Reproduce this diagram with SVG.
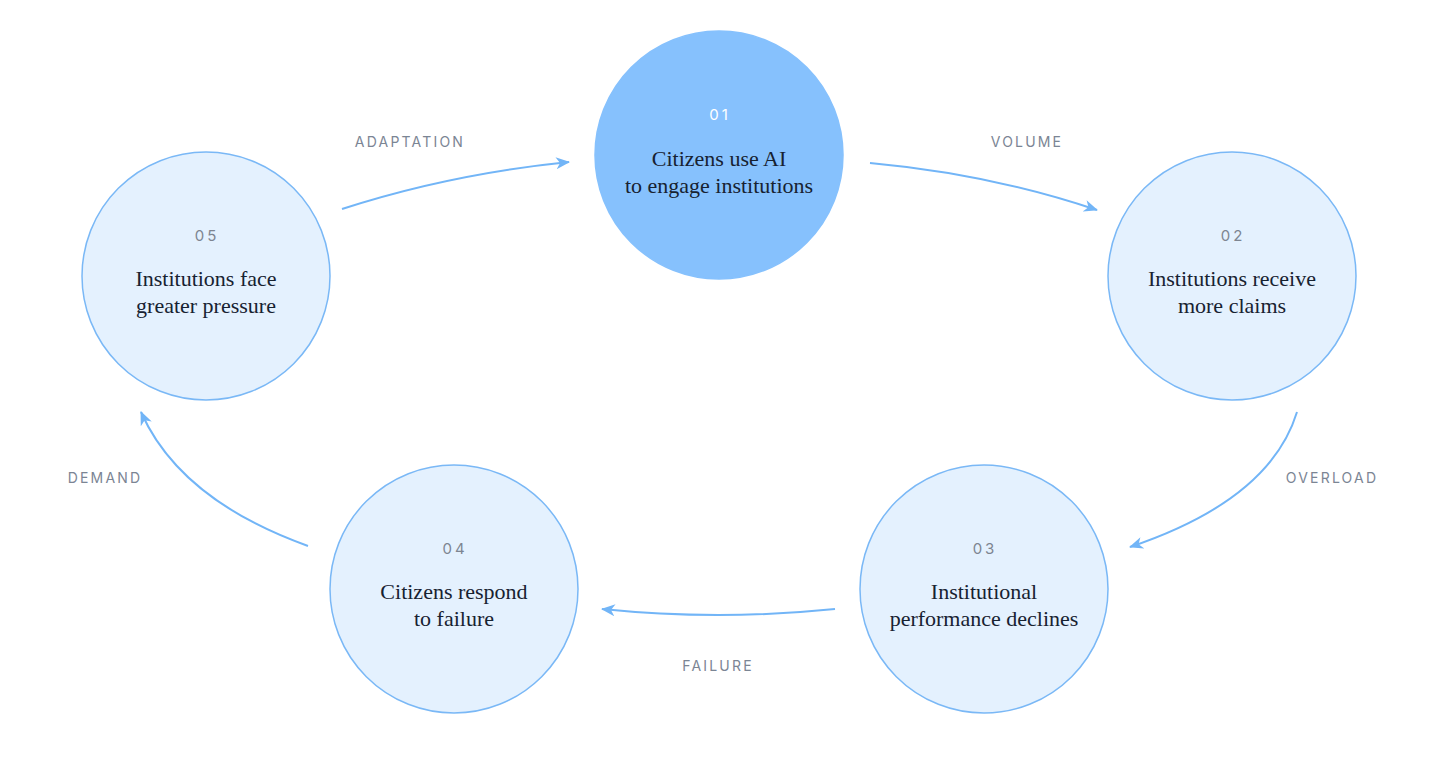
<svg xmlns="http://www.w3.org/2000/svg" width="1456" height="763" viewBox="0 0 1456 763">
<defs>
<marker id="ah" viewBox="0 0 14 12" refX="13" refY="6" markerWidth="14" markerHeight="12" markerUnits="userSpaceOnUse" orient="auto">
<path d="M0,0 L14,6 L0,12 L4,6 Z" fill="#72b5f7"/>
</marker>
<style>
.node{fill:#e4f1fe;stroke:#7ab8f6;stroke-width:1.5}
.node.hi{fill:#86c1fd;stroke:#86c1fd}
.num{font-family:Inter,"Liberation Sans",sans-serif;font-size:15px;letter-spacing:3px;fill:#7d8591;text-anchor:middle}
.num.w{fill:#ffffff}
.title{font-family:"Liberation Serif","DejaVu Serif",serif;font-size:22px;fill:#172231;text-anchor:middle}
.lbl{font-family:Inter,"Liberation Sans",sans-serif;font-size:14px;letter-spacing:2.2px;fill:#7b8594;text-anchor:middle}
.edge{fill:none;stroke:#72b5f7;stroke-width:2;marker-end:url(#ah)}
</style>
</defs>
<rect width="1456" height="763" fill="#ffffff"/>
<g id="connectors">
<path class="edge" d="M342,209 Q450,174 569,162"/>
<path class="edge" d="M870,163 Q990,174 1097,210"/>
<path class="edge" d="M1297,412 Q1270,500 1130,547"/>
<path class="edge" d="M835,609 Q718,621 602,609"/>
<path class="edge" d="M308,546 Q180,500 141,412"/>
<text class="lbl" x="410" y="147">ADAPTATION</text>
<text class="lbl" x="1027" y="147">VOLUME</text>
<text class="lbl" x="1332" y="483">OVERLOAD</text>
<text class="lbl" x="718" y="671">FAILURE</text>
<text class="lbl" x="105" y="483">DEMAND</text>
</g>
<g id="node01">
<circle class="node hi" cx="719" cy="155" r="124"/>
<text class="num w" x="720" y="120">01</text>
<text class="title" x="719" y="166">Citizens use AI</text>
<text class="title" x="719" y="193">to engage institutions</text>
</g>
<g id="node02">
<circle class="node" cx="1232" cy="276" r="124"/>
<text class="num" x="1233" y="241">02</text>
<text class="title" x="1232" y="286">Institutions receive</text>
<text class="title" x="1232" y="313">more claims</text>
</g>
<g id="node03">
<circle class="node" cx="984" cy="589" r="124"/>
<text class="num" x="985" y="554">03</text>
<text class="title" x="984" y="599">Institutional</text>
<text class="title" x="984" y="626">performance declines</text>
</g>
<g id="node04">
<circle class="node" cx="454" cy="589" r="124"/>
<text class="num" x="455" y="554">04</text>
<text class="title" x="454" y="599">Citizens respond</text>
<text class="title" x="454" y="626">to failure</text>
</g>
<g id="node05">
<circle class="node" cx="206" cy="276" r="124"/>
<text class="num" x="207" y="241">05</text>
<text class="title" x="206" y="286">Institutions face</text>
<text class="title" x="206" y="313">greater pressure</text>
</g>
</svg>
